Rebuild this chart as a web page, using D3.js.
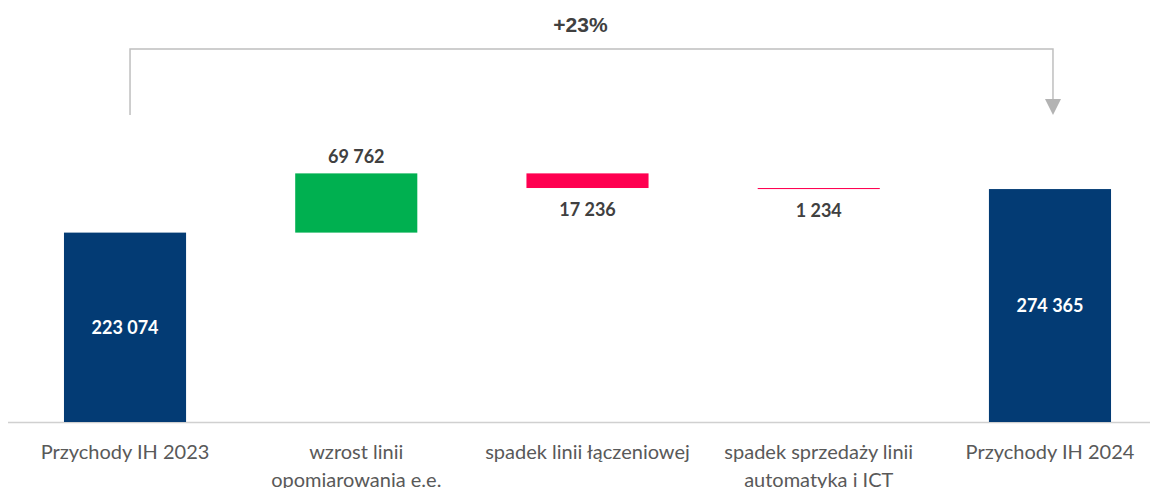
<!DOCTYPE html>
<meta charset="utf-8">
<style>
body { margin: 0; background: #fff; }
.cat { font-family: Lato, "Open Sans", sans-serif; font-size: 20px; fill: #595959; }
.val { font-family: Lato, "Open Sans", sans-serif; font-size: 18px; font-weight: bold; fill: #404040; }
.val.in { fill: #fff; }
</style>
<svg width="1150" height="488"></svg>
<script src="https://cdn.jsdelivr.net/npm/d3@7"></script>
<script>

var categories = ["Przychody IH 2023", "wzrost linii\nopomiarowania e.e.", "spadek linii łączeniowej", "spadek sprzedaży linii\nautomatyka i ICT", "Przychody IH 2024"];
var kinds = ["total", "delta", "delta", "delta", "total"];
var values = [223074, 69762, -17236, -1234, 274365];
var valueLabels = ["223 074", "69 762", "17 236", "1 234", "274 365"];
var growthLabel = "+23%";

var svg = d3.select("svg");

var x = d3.scaleBand()
    .domain(categories)
    .range([9.4, 1165.6])
    .paddingInner(0.472)
    .paddingOuter(0.236);

var y = d3.scaleLinear()
    .domain([0, 300000])
    .range([422, 422 - 300000 * 0.000849]);

// running totals for the waterfall
var run = 0;
var bars = values.map(function(v, i) {
  var start, end;
  if (kinds[i] == "total") { start = 0; end = v; run = v; }
  else { start = run; end = run + v; run = end; }
  return {cat: categories[i], kind: kinds[i], value: v, start: start, end: end, label: valueLabels[i]};
});

function barColor(d) {
  if (d.kind == "total") return "#033B74";
  return d.value >= 0 ? "#00B050" : "#FF0050";
}

// baseline
svg.append("line")
    .attr("x1", 8).attr("x2", 1150)
    .attr("y1", y(0) + 0.5).attr("y2", y(0) + 0.5)
    .attr("stroke", "#d0d0d0")
    .attr("stroke-width", 1.5);

svg.selectAll(".bar")
  .data(bars)
  .enter().append("rect")
    .attr("class", "bar")
    .attr("x", function(d) { return x(d.cat); })
    .attr("width", x.bandwidth())
    .attr("y", function(d) { return y(Math.max(d.start, d.end)); })
    .attr("height", function(d) { return Math.max(1, Math.abs(y(d.start) - y(d.end))); })
    .attr("fill", barColor);

svg.selectAll(".val")
  .data(bars)
  .enter().append("text")
    .attr("class", function(d) { return d.kind == "total" ? "val in" : "val"; })
    .attr("text-anchor", "middle")
    .attr("dy", "0.35em")
    .attr("x", function(d) { return x(d.cat) + x.bandwidth() / 2; })
    .attr("y", function(d) {
      if (d.kind == "total") return (y(0) + y(d.end)) / 2;
      if (d.value >= 0) return y(d.end) - 17;
      return y(d.end) + 22;
    })
    .text(function(d) { return d.label; });

// category labels (axis-like, no ticks)
var cat = svg.selectAll(".cat")
  .data(categories)
  .enter().append("text")
    .attr("class", "cat")
    .attr("text-anchor", "middle")
    .attr("x", function(d) { return x(d) + x.bandwidth() / 2; })
    .attr("y", 459);

cat.selectAll("tspan")
  .data(function(d) { return d.split("\n"); })
  .enter().append("tspan")
    .attr("x", function() { return d3.select(this.parentNode).attr("x"); })
    .attr("dy", function(d, i) { return i ? 28 : 0; })
    .text(function(d) { return d; });

// growth bracket
var xa = x(categories[0]) + x.bandwidth() / 2 + 5,
    xb = x(categories[4]) + x.bandwidth() / 2 + 3,
    yTop = 49;

svg.append("path")
    .attr("d", "M" + xa + ",115V" + yTop + "H" + xb + "V100")
    .attr("fill", "none")
    .attr("stroke", "#bfbfbf")
    .attr("stroke-width", 1.5);

svg.append("path")
    .attr("d", "M" + (xb - 8) + ",99L" + (xb + 8) + ",99L" + xb + ",115Z")
    .attr("fill", "#b3b3b3");

svg.append("text")
    .attr("x", (xa + xb) / 2 - 11)
    .attr("y", 32)
    .attr("text-anchor", "middle")
    .style("font", "bold 21px 'Liberation Sans', Arial, sans-serif")
    .attr("fill", "#404040")
    .text(growthLabel);

</script>
